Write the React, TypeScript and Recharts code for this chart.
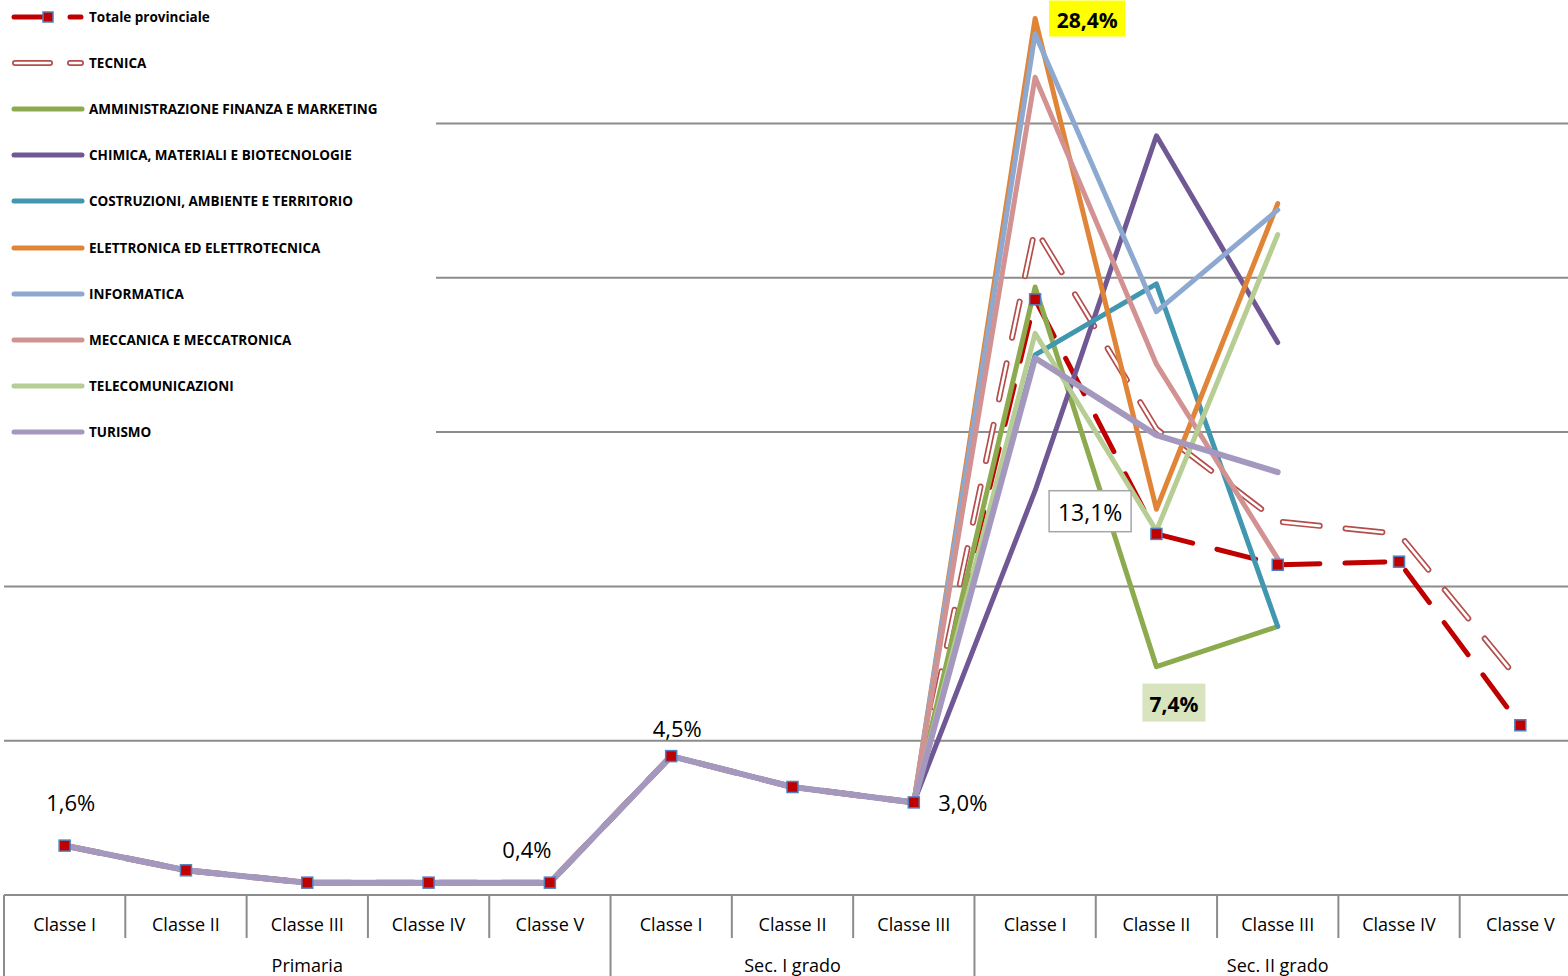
import { CartesianGrid, Legend, Line, LineChart, XAxis, YAxis } from 'recharts'

const categorie = [
  'Classe I', 'Classe II', 'Classe III', 'Classe IV', 'Classe V',
  'Classe I', 'Classe II', 'Classe III',
  'Classe I', 'Classe II', 'Classe III', 'Classe IV', 'Classe V',
]

const gruppi = [
  { nome: 'Primaria', classi: 5 },
  { nome: 'Sec. I grado', classi: 3 },
  { nome: 'Sec. II grado', classi: 5 },
]

const totale = [1.6, 0.8, 0.4, 0.4, 0.4, 4.5, 3.5, 3.0, 19.3, 11.7, 10.7, 10.8, 5.5]
const tecnica = [1.6, 0.8, 0.4, 0.4, 0.4, 4.5, 3.5, 3.0, 21.6, 15.1, 12.1, 11.7, 6.9]
const afm = [1.6, 0.8, 0.4, 0.4, 0.4, 4.5, 3.5, 3.0, 19.7, 7.4, 8.7, null, null]
const chimica = [1.6, 0.8, 0.4, 0.4, 0.4, 4.5, 3.5, 3.0, 13.1, 24.6, 17.9, null, null]
const costruzioni = [1.6, 0.8, 0.4, 0.4, 0.4, 4.5, 3.5, 3.0, 17.5, 19.8, 8.7, null, null]
const elettronica = [1.6, 0.8, 0.4, 0.4, 0.4, 4.5, 3.5, 3.0, 28.4, 12.5, 22.4, null, null]
const informatica = [1.6, 0.8, 0.4, 0.4, 0.4, 4.5, 3.5, 3.0, 27.9, 18.9, 22.2, null, null]
const meccanica = [1.6, 0.8, 0.4, 0.4, 0.4, 4.5, 3.5, 3.0, 26.5, 17.2, 10.9, null, null]
const telecomunicazioni = [1.6, 0.8, 0.4, 0.4, 0.4, 4.5, 3.5, 3.0, 18.2, 11.8, 21.4, null, null]
const turismo = [1.6, 0.8, 0.4, 0.4, 0.4, 4.5, 3.5, 3.0, 17.4, 14.9, 13.7, null, null]

const yTicks = [0, 5, 10, 15, 20, 25]

const ROSSO = '#c00000'
const BORDO_TECNICA = '#b44d4b'
const FONT = '"Open Sans", sans-serif'

const CHART_W = 1582
const MARGIN = { top: 0, right: 1, bottom: 0, left: 4 }
// mezza colonna di categoria: i punti stanno al centro di ogni colonna
const halfBand = (CHART_W - MARGIN.left - MARGIN.right) / categorie.length / 2

const indirizzi = [
  { key: 'afm', nome: 'AMMINISTRAZIONE FINANZA E MARKETING', colore: '#8daa4e', valori: afm },
  { key: 'chimica', nome: 'CHIMICA, MATERIALI E BIOTECNOLOGIE', colore: '#6f5894', valori: chimica },
  { key: 'costruzioni', nome: 'COSTRUZIONI, AMBIENTE E TERRITORIO', colore: '#4197af', valori: costruzioni },
  { key: 'elettronica', nome: 'ELETTRONICA ED ELETTROTECNICA', colore: '#e08538', valori: elettronica },
  { key: 'informatica', nome: 'INFORMATICA', colore: '#8ea9d0', valori: informatica },
  { key: 'meccanica', nome: 'MECCANICA E MECCATRONICA', colore: '#d39292', valori: meccanica },
  { key: 'telecomunicazioni', nome: 'TELECOMUNICAZIONI', colore: '#b6cd93', valori: telecomunicazioni },
  { key: 'turismo', nome: 'TURISMO', colore: '#a598bf', valori: turismo },
]

const data = categorie.map((classe, i) => {
  const row: Record<string, string | number | null> = {
    classe,
    totale: totale[i],
    tecnica: tecnica[i],
  }
  indirizzi.forEach((s) => { row[s.key] = s.valori[i] })
  return row
})

// primo indice e indice centrale di ogni gruppo di classi
const inizioGruppi: number[] = []
const centroGruppi: Record<number, string> = {}
gruppi.reduce((start, g) => {
  inizioGruppi.push(start)
  centroGruppi[start + Math.floor(g.classi / 2)] = g.nome
  return start + g.classi
}, 0)

const fmt = (v: number) => `${v.toFixed(1).replace('.', ',')}%`

function TickClasse(props: any) {
  const { x, y, payload, index } = props
  const left = x - halfBand
  const lineProps = { stroke: '#8c8c8c', strokeWidth: 2 }
  const gruppo = centroGruppi[index]
  return (
    <g>
      {inizioGruppi.includes(index)
        ? <line x1={left} x2={left} y1={y} y2={y + 82} {...lineProps} />
        : <line x1={left} x2={left} y1={y} y2={y + 43} {...lineProps} />}
      {index === categorie.length - 1 && (
        <line x1={x + halfBand} x2={x + halfBand} y1={y} y2={y + 82} {...lineProps} />
      )}
      <text x={x} y={y + 29} textAnchor="middle" dominantBaseline="central"
        fontFamily={FONT} fontSize={18} fill="#000">
        {payload.value}
      </text>
      {gruppo && (
        <text x={x} y={y + 70} textAnchor="middle" dominantBaseline="central"
          fontFamily={FONT} fontSize={18} fill="#000">
          {gruppo}
        </text>
      )}
    </g>
  )
}

function SquareDot(props: any) {
  const { cx, cy, index } = props
  if (cx == null || cy == null) return <g key={index} />
  return (
    <rect key={index} x={cx - 5.5} y={cy - 5.5} width={11} height={11}
      fill={ROSSO} stroke="#4f81bd" strokeWidth={1.5} />
  )
}

// etichette del totale: spostamento del testo rispetto al punto
const etichetteTotale: Record<number, [number, number]> = {
  0: [6, -44],
  4: [-23, -34],
  5: [6, -28],
  7: [49, 0],
}

function LabelTotale(props: any) {
  const { x, y, value, index } = props
  const pos = etichetteTotale[index]
  if (!pos || value == null) return null
  return (
    <text x={x + pos[0]} y={y + pos[1]} textAnchor="middle" dominantBaseline="central"
      fontFamily={FONT} fontSize={22} fill="#000">
      {fmt(value)}
    </text>
  )
}

function boxLabel(indice: number, box: { dx: number; dy: number; w: number; h: number },
  fill: string, stroke: string | undefined, bold: boolean, size: number) {
  return (props: any) => {
    const { x, y, value, index } = props
    if (index !== indice || value == null) return null
    return (
      <g>
        <rect x={x + box.dx} y={y + box.dy} width={box.w} height={box.h}
          fill={fill} stroke={stroke ?? 'none'} strokeWidth={1.5} />
        <text x={x + box.dx + box.w / 2} y={y + box.dy + box.h / 2 + 1}
          textAnchor="middle" dominantBaseline="central" fontFamily={FONT}
          fontSize={size} fontWeight={bold ? 700 : 400} fill="#000">
          {fmt(value)}
        </text>
      </g>
    )
  }
}

const labelMassimo = boxLabel(8, { dx: 14, dy: -18, w: 76, h: 36 }, '#ffff00', undefined, true, 21)
const labelMinimo = boxLabel(9, { dx: -14, dy: 17, w: 63, h: 38 }, '#d7e4bd', undefined, true, 21)
const labelChimica = boxLabel(8, { dx: 14, dy: 0, w: 82, h: 41 }, '#ffffff', '#a6a6a6', false, 23)

function Legenda() {
  return (
    <div style={{ position: 'relative', width: 436, height: 452, background: '#fff' }}>
      {[{ key: 'totale', nome: 'Totale provinciale' }, { key: 'tecnica', nome: 'TECNICA' }, ...indirizzi]
        .map((s, i) => (
          <div key={s.key} style={{
            position: 'absolute', left: 0, top: 17 + i * 46.1 - 11, height: 22,
            display: 'flex', alignItems: 'center',
          }}>
            <svg width={89} height={22}>
              {s.key === 'totale' && (
                <g strokeLinecap="round">
                  <line x1={14} x2={44} y1={11} y2={11} stroke={ROSSO} strokeWidth={5} />
                  <rect x={43} y={6} width={10} height={10} fill={ROSSO} stroke="#4f81bd" strokeWidth={1.5} />
                  <line x1={70} x2={81} y1={11} y2={11} stroke={ROSSO} strokeWidth={5} />
                </g>
              )}
              {s.key === 'tecnica' && (
                <g strokeLinecap="round">
                  <line x1={15} x2={50} y1={11} y2={11} stroke={BORDO_TECNICA} strokeWidth={6} />
                  <line x1={70} x2={81} y1={11} y2={11} stroke={BORDO_TECNICA} strokeWidth={6} />
                  <line x1={15} x2={50} y1={11} y2={11} stroke="#fff" strokeWidth={2.5} />
                  <line x1={70} x2={81} y1={11} y2={11} stroke="#fff" strokeWidth={2.5} />
                </g>
              )}
              {'colore' in s && (
                <line x1={14} x2={82} y1={11} y2={11} stroke={(s as any).colore}
                  strokeWidth={5} strokeLinecap="round" />
              )}
            </svg>
            <span style={{ fontFamily: FONT, fontWeight: 700, fontSize: 13.5, color: '#000' }}>{s.nome}</span>
          </div>
        ))}
    </div>
  )
}

export default function App() {
  return (
    <div style={{
      position: 'absolute', left: 0, top: 0, width: 1568, height: 976,
      overflow: 'hidden', background: '#fff',
    }}>
      <LineChart width={CHART_W} height={976} data={data} margin={MARGIN}>
        <CartesianGrid horizontal vertical={false} horizontalValues={yTicks}
          stroke="#8c8c8c" strokeWidth={2} />
        <XAxis dataKey="classe" interval={0} height={81} tickSize={0} tickMargin={0}
          padding={{ left: halfBand, right: halfBand }}
          axisLine={false} tickLine={false} tick={<TickClasse />} />
        <YAxis hide domain={[0, 29]} ticks={yTicks} />
        <Legend layout="horizontal" verticalAlign="middle" content={<Legenda />}
          wrapperStyle={{ left: 0, top: 0, width: 436, height: 452 }} />
        <Line dataKey="totale" name="Totale provinciale" type="linear" stroke={ROSSO}
          strokeWidth={5} strokeDasharray="40 25" strokeLinecap="round"
          dot={<SquareDot />} activeDot={false} label={<LabelTotale />}
          isAnimationActive={false} />
        <Line dataKey="tecnica" name="TECNICA" type="linear" stroke={BORDO_TECNICA}
          strokeWidth={6} strokeDasharray="37 26" strokeLinecap="round"
          dot={false} activeDot={false} isAnimationActive={false} />
        <Line dataKey="tecnica" name="TECNICA interno" legendType="none" type="linear"
          stroke="#ffffff" strokeWidth={2.6} strokeDasharray="37 26" strokeLinecap="round"
          dot={false} activeDot={false} isAnimationActive={false} />
        {indirizzi.map((s) => (
          <Line key={s.key} dataKey={s.key} name={s.nome} type="linear" stroke={s.colore}
            strokeWidth={s.key === 'turismo' ? 6 : 5} strokeLinejoin="round" strokeLinecap="round"
            dot={false} activeDot={false} isAnimationActive={false}
            label={s.key === 'elettronica' ? labelMassimo
              : s.key === 'afm' ? labelMinimo
                : s.key === 'chimica' ? labelChimica : undefined} />
        ))}
      </LineChart>
    </div>
  )
}
